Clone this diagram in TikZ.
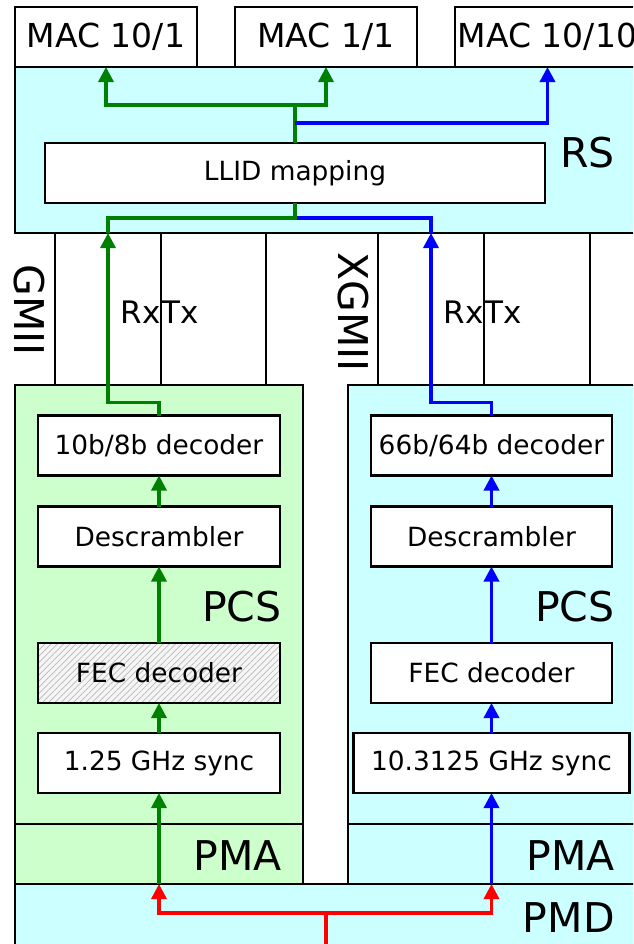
\documentclass[tikz,border=0pt]{standalone}
\usepackage{fontspec}
\setmainfont{DejaVu Sans}
\usetikzlibrary{arrows.meta,patterns.meta}
\definecolor{cyanbg}{HTML}{CCFFFF}
\definecolor{greenbg}{HTML}{CCFFCC}
\definecolor{ggreen}{HTML}{008000}
\definecolor{bblue}{HTML}{0000FF}
\definecolor{rred}{HTML}{FF0000}
\tikzset{
  frame/.style={draw=black, line width=1.1pt, inner sep=0pt, outer sep=0pt},
  layer/.style={frame, fill=#1},
  box/.style={frame, fill=white, minimum height=30pt, font=\fontsize{13.2}{15}\selectfont},
  macbox/.style={frame, fill=white, minimum width=91pt, minimum height=30pt, font=\fontsize{16.5}{19}\selectfont},
  hatched/.style={preaction={fill=gray!8}, pattern={Lines[angle=45,distance=2.2pt,line width=0.35pt]}, pattern color=gray!55},
  biglabel/.style={inner sep=0pt, font=\fontsize{20.5}{24}\selectfont},
  midlabel/.style={inner sep=0pt, font=\fontsize{15.5}{18}\selectfont},
  tip/.style={-{Triangle[length=7.5pt,width=7.5pt]}},
  gline/.style={draw=ggreen, line width=1.7pt},
  bline/.style={draw=bblue, line width=1.7pt},
  rline/.style={draw=rred, line width=1.7pt},
  garr/.style={gline, tip, color=ggreen},
  barr/.style={bline, tip, color=bblue},
  rarr/.style={rline, tip, color=rred},
}
\begin{document}
\begin{tikzpicture}[x=0.5pt, y=-0.5pt]
\useasboundingbox (0,0) rectangle (633,944);
\clip (0,0) rectangle (633,944);
% layers
\node[layer=cyanbg, minimum width=312.5pt, minimum height=83pt] (rs) at (327.5,150) {};
\node[layer=white, minimum width=53pt, minimum height=76pt] (gRx) at (108,309) {};
\node[layer=white, minimum width=52.5pt, minimum height=76pt] (gTx) at (213.5,309) {};
\node[layer=white, minimum width=53pt, minimum height=76pt] (xRx) at (431,309) {};
\node[layer=white, minimum width=53pt, minimum height=76pt] (xTx) at (537,309) {};
\node[layer=greenbg, minimum width=144pt, minimum height=219.5pt] (pcsL) at (159,604.5) {};
\node[layer=greenbg, minimum width=144pt, minimum height=30pt] (pmaL) at (159,854) {};
\node[layer=cyanbg, minimum width=146pt, minimum height=219.5pt] (pcsR) at (494,604.5) {};
\node[layer=cyanbg, minimum width=146pt, minimum height=30pt] (pmaR) at (494,854) {};
\node[layer=cyanbg, minimum width=312.5pt, minimum height=33pt] (pmd) at (327.5,917) {};
% MAC boxes
\node[macbox] (mac1) at (106,37) {MAC 10/1};
\node[macbox] (mac2) at (326,37) {MAC 1/1};
\node[macbox, minimum width=92.5pt] (mac3) at (547.5,37) {MAC 10/10};
% LLID
\node[box, minimum width=250pt] (llid) at (295,173) {LLID mapping};
% left chain
\node[box, minimum width=121pt] (decL) at (159,445.5) {10b/8b decoder};
\node[box, minimum width=121pt] (descL) at (159,536.5) {Descrambler};
\node[box, minimum width=121pt, hatched] (fecL) at (159,673) {FEC decoder};
\node[box, minimum width=121pt] (syncL) at (159,763) {1.25 GHz sync};
% right chain
\node[box, minimum width=120.5pt] (decR) at (491.5,445.5) {66b/64b decoder};
\node[box, minimum width=120.5pt] (descR) at (491.5,536.5) {Descrambler};
\node[box, minimum width=120.5pt] (fecR) at (491.5,673) {FEC decoder};
\node[box, minimum width=138pt] (syncR) at (491.5,763) {10.3125 GHz sync};
% labels
\node[biglabel, anchor=base east] (lrs) at (615,167) {RS};
\node[biglabel, anchor=base east] (lpcsL) at (282,621) {PCS};
\node[biglabel, anchor=base east] (lpcsR) at (615,621) {PCS};
\node[biglabel, anchor=base east] (lpmaL) at (282,870) {PMA};
\node[biglabel, anchor=base east] (lpmaR) at (615,870) {PMA};
\node[biglabel, anchor=base east] (lpmd) at (615,932) {PMD};
\node[biglabel, rotate=-90] (lgmii) at (29,310) {GMII};
\node[biglabel, rotate=-90] (lxgmii) at (353,312) {XGMII};
\node[midlabel, anchor=base east] (lrx1) at (gRx.east |- 0,323) {Rx};
\node[midlabel, anchor=base west] (ltx1) at (gTx.west |- 0,323) {Tx};
\node[midlabel, anchor=base east] (lrx2) at (xRx.east |- 0,323) {Rx};
\node[midlabel, anchor=base west] (ltx2) at (xTx.west |- 0,323) {Tx};
% junction coordinates
\coordinate (jlow) at (295,218);
\coordinate (jhigh) at (295,105);
\coordinate (jblue) at (295,123);
\coordinate (rsrc) at (326,950);
\coordinate (rj) at (326,913);
% RS internal connectors
\draw[bline] (xRx.north) |- (jlow);
\draw[gline] (gRx.north) |- (jlow) -- (llid.south);
\draw[gline] (llid.north) -- (jhigh);
\draw[garr] (jhigh) -| (mac1.south);
\draw[garr] (jhigh) -| (mac2.south);
\draw[barr] (jblue) -| (mac3.south);
% left chain connectors
\draw[garr] (decL.north) -- ++(0,-13) -| (gRx.north);
\draw[garr] (descL.north) -- (decL.south);
\draw[garr] (fecL.north) -- (descL.south);
\draw[garr] (syncL.north) -- (fecL.south);
\draw[garr] (syncL.south |- pmd.north) -- (syncL.south);
% right chain connectors
\draw[barr] (decR.north) -- ++(0,-13) -| (xRx.north);
\draw[barr] (descR.north) -- (decR.south);
\draw[barr] (fecR.north) -- (descR.south);
\draw[barr] (syncR.north) -- (fecR.south);
\draw[barr] (syncR.south |- pmd.north) -- (syncR.south);
% red
\draw[rline] (rsrc) -- (rj);
\draw[rarr] (rj) -| (syncL.south |- pmd.north);
\draw[rarr] (rj) -| (syncR.south |- pmd.north);
\end{tikzpicture}
\end{document}
